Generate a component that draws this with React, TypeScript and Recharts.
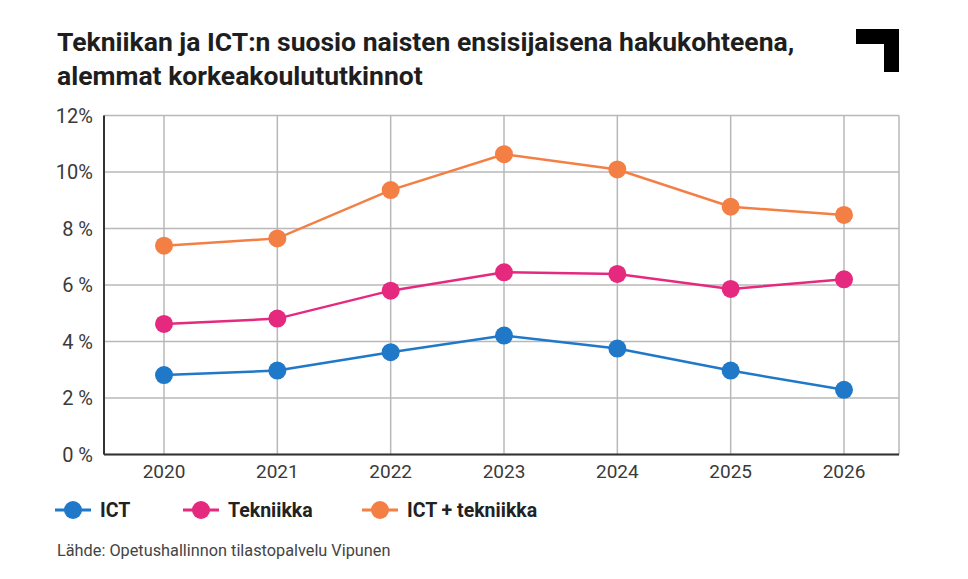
import React from 'react'
import { LineChart, Line, XAxis, YAxis, CartesianGrid } from 'recharts'

const years = ['2020', '2021', '2022', '2023', '2024', '2025', '2026']
const ict = [2.81, 2.97, 3.62, 4.21, 3.75, 2.97, 2.29]
const tekniikka = [4.62, 4.81, 5.8, 6.45, 6.39, 5.86, 6.2]
const ictTekniikka = [7.39, 7.65, 9.36, 10.63, 10.09, 8.77, 8.48]
const yTicks = [0, 2, 4, 6, 8, 10, 12]

const series = [
  { key: 'ict', name: 'ICT', color: '#1f78c8', values: ict },
  { key: 'tek', name: 'Tekniikka', color: '#e5297f', values: tekniikka },
  { key: 'sum', name: 'ICT + tekniikka', color: '#f47f45', values: ictTekniikka },
]

const data = years.map((year, i) => {
  const row: any = { year }
  series.forEach(s => { row[s.key] = s.values[i] })
  return row
})

const FONT = 'Roboto, "DejaVu Sans", sans-serif'
const BORDER = '#333333'
const TEXT = '#3a3a3a'

export default function App() {
  return (
    <div style={{ position: 'absolute', left: 0, top: 0, width: 968, height: 579, background: '#fff', fontFamily: FONT }}>
      <div style={{ position: 'absolute', left: 57, top: 25, fontSize: 26.5, fontWeight: 700, lineHeight: '34px', color: '#1e1e1e' }}>
        Tekniikan ja ICT:n suosio naisten ensisijaisena hakukohteena,<br />
        alemmat korkeakoulututkinnot
      </div>

      {/* corner mark */}
      <div style={{ position: 'absolute', left: 856, top: 29, width: 43, height: 15, background: '#000' }} />
      <div style={{ position: 'absolute', left: 884, top: 29, width: 15, height: 43, background: '#000' }} />

      <div style={{ position: 'absolute', left: 0, top: 0 }}>
        <LineChart width={968} height={579} data={data} margin={{ top: 115.5, right: 69, left: 0, bottom: 94.5 }}>
          <CartesianGrid stroke="#b8b8b8" strokeWidth={1.5} />
          <XAxis
            dataKey="year"
            padding={{ left: 60, right: 55 }}
            height={30}
            axisLine={{ stroke: BORDER, strokeWidth: 2 }}
            tickLine={false}
            tickMargin={4}
            tick={{ fill: TEXT, fontSize: 19, fontFamily: FONT }}
          />
          <XAxis xAxisId="top" orientation="top" dataKey="year" height={0} tick={false} tickLine={false}
            axisLine={{ stroke: BORDER, strokeWidth: 2 }} />
          <YAxis
            domain={[0, 12]}
            ticks={yTicks}
            width={104}
            axisLine={{ stroke: BORDER, strokeWidth: 2 }}
            tickLine={false}
            tickMargin={5}
            tickFormatter={(v: number) => (v < 10 ? `${v} %` : `${v}%`)}
            tick={{ fill: TEXT, fontSize: 20, fontFamily: FONT }}
          />
          <YAxis yAxisId="right" orientation="right" domain={[0, 12]} width={0} tick={false} tickLine={false}
            axisLine={{ stroke: BORDER, strokeWidth: 2 }} />
          {series.map(s => (
            <Line
              key={s.key}
              dataKey={s.key}
              name={s.name}
              stroke={s.color}
              strokeWidth={2.5}
              dot={{ r: 9, fill: s.color, stroke: 'none' }}
              activeDot={false}
              isAnimationActive={false}
            />
          ))}
        </LineChart>
      </div>

      {/* legend */}
      {series.map((s, i) => (
        <div key={s.key} style={{ position: 'absolute', left: [55, 183, 362][i], top: 498, height: 24, display: 'flex', alignItems: 'center' }}>
          <svg width={36} height={20} style={{ display: 'block' }}>
            <line x1={0} y1={10} x2={36} y2={10} stroke={s.color} strokeWidth={3} />
            <circle cx={18} cy={10} r={9} fill={s.color} />
          </svg>
          <span style={{ marginLeft: 9, fontSize: 19.5, fontWeight: 700, color: '#222' }}>{s.name}</span>
        </div>
      ))}

      <div style={{ position: 'absolute', left: 57, top: 541, fontSize: 16.3, color: '#444' }}>
        Lähde: Opetushallinnon tilastopalvelu Vipunen
      </div>
    </div>
  )
}
